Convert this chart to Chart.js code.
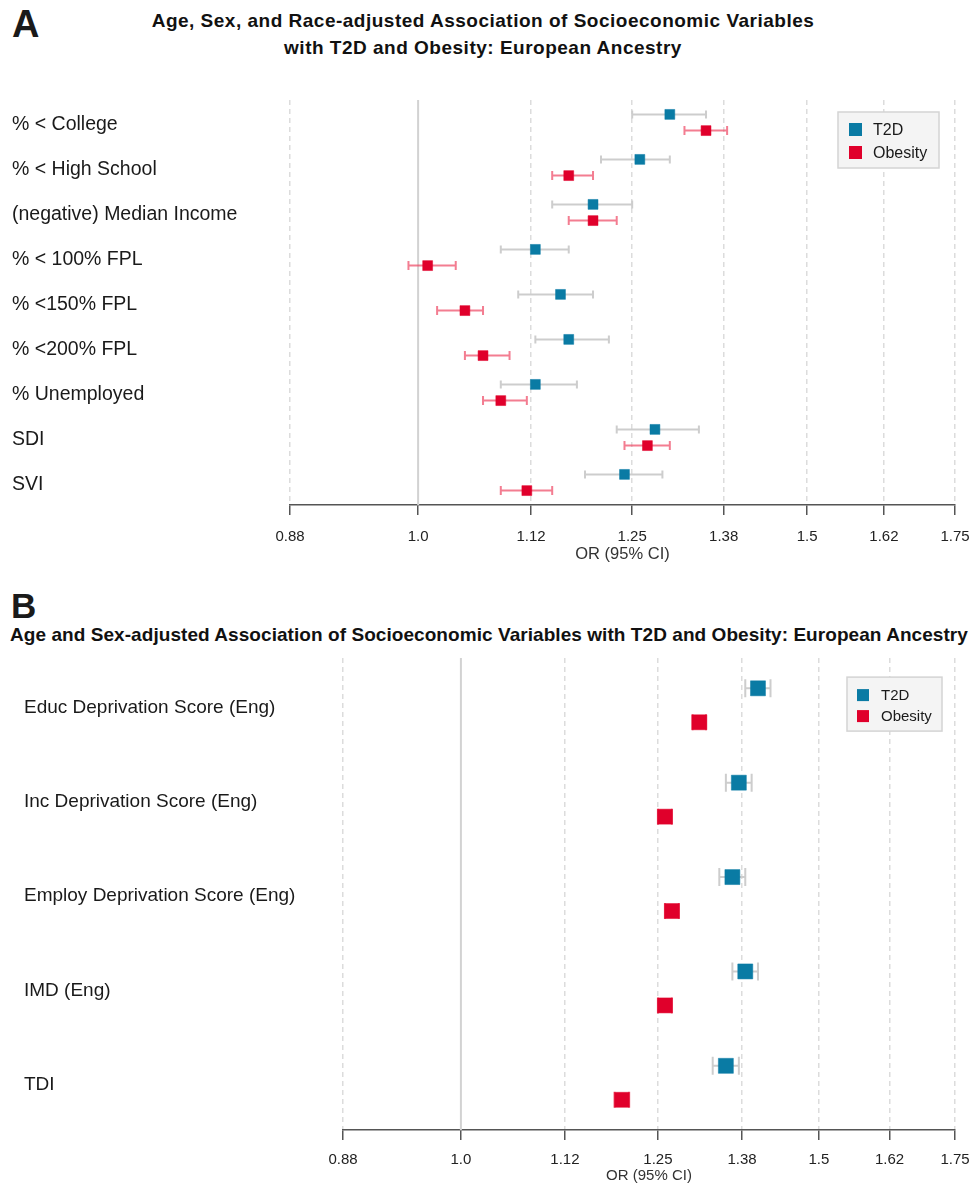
<!DOCTYPE html>
<html>
<head>
<meta charset="utf-8">
<script src="https://cdn.jsdelivr.net/npm/chart.js@4/dist/chart.umd.min.js"></script>
<style>
  html, body { margin: 0; padding: 0; background: #ffffff; }
  #page { position: relative; width: 971px; height: 1183px; overflow: hidden; font-family: "Liberation Sans", Arial, sans-serif; color: #111; }
  .panel-letter { position: absolute; font-weight: bold; line-height: 1; color: #1a1a1a; }
  .panel-title { position: absolute; font-weight: bold; color: #111; white-space: nowrap; }
  canvas { position: absolute; left: 0; }
</style>
</head>
<body>
<div id="page">
  <div class="panel-letter" style="left:12px; top:5px; font-size:38px;">A</div>
  <div class="panel-title" style="left:0; width:966px; top:7px; font-size:19px; line-height:27px; letter-spacing:0.5px; text-align:center;">Age, Sex, and Race-adjusted Association of Socioeconomic Variables<br>with T2D and Obesity: European Ancestry</div>
  <canvas id="chartA" width="971" height="474" style="top:90px;"></canvas>

  <div class="panel-letter" style="left:11px; top:588px; font-size:35px;">B</div>
  <div class="panel-title" style="left:10px; top:625px; font-size:19px; line-height:1; letter-spacing:0.06px;">Age and Sex-adjusted Association of Socioeconomic Variables with T2D and Obesity: European Ancestry</div>
  <canvas id="chartB" width="971" height="538" style="top:647px;"></canvas>
</div>

<script>
// ---- Odds-ratio axis ticks (log scale, steps of 1/8) ----
const tickValues = [0.875, 1.0, 1.125, 1.25, 1.375, 1.5, 1.625, 1.75];
const tickLabels = ['0.88', '1.0', '1.12', '1.25', '1.38', '1.5', '1.62', '1.75'];

// ---- Panel A: US area-level socioeconomic variables ----
const categoriesA = ['% < College', '% < High School', '(negative) Median Income', '% < 100% FPL',
  '% <150% FPL', '% <200% FPL', '% Unemployed', 'SDI', 'SVI'];
const t2dA_or = [1.30, 1.26, 1.20, 1.13, 1.16, 1.17, 1.13, 1.28, 1.24];
const t2dA_lo = [1.25, 1.21, 1.15, 1.09, 1.11, 1.13, 1.09, 1.23, 1.19];
const t2dA_hi = [1.35, 1.30, 1.25, 1.17, 1.20, 1.22, 1.18, 1.34, 1.29];
const obA_or  = [1.35, 1.17, 1.20, 1.01, 1.05, 1.07, 1.09, 1.27, 1.12];
const obA_lo  = [1.32, 1.15, 1.17, 0.99, 1.02, 1.05, 1.07, 1.24, 1.09];
const obA_hi  = [1.38, 1.20, 1.23, 1.04, 1.07, 1.10, 1.12, 1.30, 1.15];

// ---- Panel B: English deprivation indices ----
const categoriesB = ['Educ Deprivation Score (Eng)', 'Inc Deprivation Score (Eng)',
  'Employ Deprivation Score (Eng)', 'IMD (Eng)', 'TDI'];
const t2dB_or = [1.40, 1.37, 1.36, 1.38, 1.35];
const t2dB_lo = [1.38, 1.35, 1.34, 1.36, 1.33];
const t2dB_hi = [1.42, 1.39, 1.38, 1.40, 1.37];
const obB_or  = [1.31, 1.26, 1.27, 1.26, 1.20];
const obB_lo  = [1.30, 1.25, 1.26, 1.25, 1.19];
const obB_hi  = [1.32, 1.27, 1.28, 1.27, 1.21];

const seriesNames = ['T2D', 'Obesity'];

// ---- Styling ----
const T2D_COLOR = '#0a7ba4';
const OB_COLOR = '#e0002b';
const T2D_CI = '#cdcdcd';
const OB_CI = 'rgba(238, 70, 98, 0.7)';
const ROW_SHIFT = 0.18; // vertical nudge of each series within its row

Chart.defaults.font.family = '"Liberation Sans", Arial, Helvetica, sans-serif';
Chart.defaults.color = '#1a1a1a';

// Confidence-interval whiskers plus the solid reference line at OR = 1
const ciPlugin = {
  id: 'ciWhiskers',
  beforeDatasetsDraw(chart, args, opts) {
    const { ctx, chartArea, scales } = chart;
    const xs = scales.x, ys = scales.y;
    ctx.save();
    const xRef = xs.getPixelForValue(1);
    ctx.strokeStyle = '#d2d2d2';
    ctx.lineWidth = 2;
    ctx.beginPath();
    ctx.moveTo(xRef, chartArea.top);
    ctx.lineTo(xRef, chartArea.bottom);
    ctx.stroke();
    chart.data.datasets.forEach(ds => {
      ctx.strokeStyle = ds.ciColor;
      ctx.lineWidth = opts.lineWidth;
      const cap = ds.capHalf;
      ds.data.forEach((pt, i) => {
        const py = ys.getPixelForValue(pt.y);
        const xl = xs.getPixelForValue(ds.ciLow[i]);
        const xh = xs.getPixelForValue(ds.ciHigh[i]);
        ctx.beginPath();
        ctx.moveTo(xl, py); ctx.lineTo(xh, py);
        ctx.moveTo(xl, py - cap); ctx.lineTo(xl, py + cap);
        ctx.moveTo(xh, py - cap); ctx.lineTo(xh, py + cap);
        ctx.stroke();
      });
    });
    ctx.restore();
  }
};

// Boxed legend in the upper-right corner of the plot
const boxLegend = {
  id: 'boxLegend',
  afterDatasetsDraw(chart, args, o) {
    const { ctx, chartArea } = chart;
    const left = chartArea.right - o.right - o.width;
    const top = chartArea.top + o.top;
    ctx.save();
    ctx.fillStyle = '#f4f4f4';
    ctx.strokeStyle = '#d4d4d4';
    ctx.lineWidth = 1.5;
    ctx.fillRect(left, top, o.width, o.height);
    ctx.strokeRect(left, top, o.width, o.height);
    ctx.font = o.fontSize + 'px "Liberation Sans", Arial, sans-serif';
    ctx.textBaseline = 'middle';
    ctx.textAlign = 'left';
    chart.data.datasets.forEach((ds, i) => {
      const cy = top + o.firstRow + i * o.rowGap;
      ctx.fillStyle = ds.backgroundColor;
      ctx.fillRect(left + o.boxX, cy - o.box / 2, o.box, o.box);
      ctx.fillStyle = '#1a1a1a';
      ctx.fillText(ds.label, left + o.textX, cy + 1);
    });
    ctx.restore();
  }
};

function makeChart(canvasId, cfg) {
  const toPoints = (vals, shift) => vals.map((v, i) => ({ x: v, y: i + shift }));
  const datasets = [
    {
      label: seriesNames[0],
      data: toPoints(cfg.t2d, -ROW_SHIFT),
      ciLow: cfg.t2dLo, ciHigh: cfg.t2dHi,
      ciColor: T2D_CI, capHalf: cfg.capT2D,
      backgroundColor: T2D_COLOR, borderColor: T2D_COLOR,
      pointStyle: 'rect', pointRadius: cfg.radius, pointBorderWidth: 0.5
    },
    {
      label: seriesNames[1],
      data: toPoints(cfg.ob, ROW_SHIFT),
      ciLow: cfg.obLo, ciHigh: cfg.obHi,
      ciColor: OB_CI, capHalf: cfg.capOb,
      backgroundColor: OB_COLOR, borderColor: OB_COLOR,
      pointStyle: 'rect', pointRadius: cfg.radius, pointBorderWidth: 0.5
    }
  ];
  const cats = cfg.categories;
  return new Chart(document.getElementById(canvasId), {
    type: 'scatter',
    data: { datasets },
    plugins: [ciPlugin, boxLegend],
    options: {
      responsive: false,
      animation: false,
      events: [],
      layout: { padding: { left: cfg.padLeft, right: 16, top: 10, bottom: 0 } },
      plugins: {
        legend: { display: false },
        tooltip: { enabled: false },
        ciWhiskers: { lineWidth: 2 },
        boxLegend: cfg.legend
      },
      scales: {
        x: {
          type: 'logarithmic',
          min: tickValues[0],
          max: tickValues[tickValues.length - 1],
          afterBuildTicks: scale => { scale.ticks = tickValues.map(v => ({ value: v })); },
          afterFit: scale => {
            scale.height = cfg.axisHeight;
            scale.paddingLeft = 0;
            scale.paddingRight = 0;
          },
          ticks: {
            autoSkip: false, maxRotation: 0, minRotation: 0,
            padding: cfg.tickPad,
            color: '#222',
            font: { size: 15, lineHeight: 1 },
            callback: (v, i) => tickLabels[i]
          },
          grid: {
            color: ctx => (ctx.tick && ctx.tick.value === 1) ? 'rgba(0,0,0,0)' : '#dcdcdc',
            lineWidth: 1.5,
            tickLength: 10,
            tickColor: '#555',
            tickWidth: 1.5
          },
          border: { display: true, color: '#555', width: 1.5, dash: [5, 4] },
          title: {
            display: true, text: 'OR (95% CI)', color: '#333',
            font: { size: cfg.titleSize }, padding: { top: 0, bottom: 0 }
          }
        },
        y: {
          type: 'linear',
          reverse: true,
          min: -0.5,
          max: cats.length - 0.5,
          afterBuildTicks: scale => { scale.ticks = cats.map((c, i) => ({ value: i })); },
          afterFit: scale => {
            scale.width = cfg.axisWidth;
            scale.paddingTop = 0;
            scale.paddingBottom = 0;
            scale.paddingLeft = 0;
            scale.paddingRight = 0;
          },
          ticks: {
            autoSkip: false,
            crossAlign: 'far',
            padding: 0,
            labelOffset: cfg.labelShift,
            color: '#1a1a1a',
            font: { size: cfg.labelSize },
            callback: v => cats[v]
          },
          grid: { display: false, drawTicks: false },
          border: { display: false }
        }
      }
    }
  });
}

makeChart('chartA', {
  categories: categoriesA,
  t2d: t2dA_or, t2dLo: t2dA_lo, t2dHi: t2dA_hi,
  ob: obA_or, obLo: obA_lo, obHi: obA_hi,
  radius: 7, capT2D: 4, capOb: 4.5,
  padLeft: 12, axisWidth: 278, axisHeight: 59, tickPad: 14, labelSize: 19.5, labelShift: 2.5, titleSize: 16.5,
  legend: { right: 16, top: 12, width: 101, height: 56, firstRow: 17.5, rowGap: 23, box: 13, boxX: 11, textX: 35, fontSize: 16 }
});

makeChart('chartB', {
  categories: categoriesB,
  t2d: t2dB_or, t2dLo: t2dB_lo, t2dHi: t2dB_hi,
  ob: obB_or, obLo: obB_lo, obHi: obB_hi,
  radius: 10.6, capT2D: 9, capOb: 8,
  padLeft: 24, axisWidth: 319, axisHeight: 55, tickPad: 12, labelSize: 19, labelShift: 2, titleSize: 15,
  legend: { right: 13, top: 19, width: 95, height: 54, firstRow: 18, rowGap: 21, box: 12, boxX: 10, textX: 34, fontSize: 15 }
});
</script>
</body>
</html>
